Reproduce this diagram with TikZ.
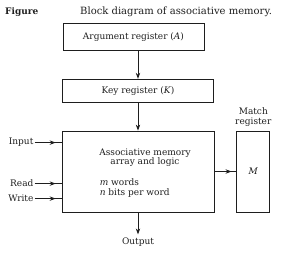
\documentclass[tikz,border=0pt]{standalone}
\usepackage{fontspec}
\setmainfont{DejaVu Serif}
\usepackage{xcolor}
\usepackage{tikz}
\usetikzlibrary{arrows.meta, positioning, calc, decorations.markings}
\definecolor{mydark}{RGB}{30,30,30}
\newcommand{\regfont}{\fontsize{9}{9.5}\selectfont}
\tikzset{
  reg/.style={rectangle, draw=mydark, line width=0.8pt, inner sep=0pt,
    font=\regfont, text=mydark},
  lbl/.style={inner sep=0pt, font=\regfont, text=mydark, align=center},
  arrow/.style={-{Stealth[length=6pt, width=4.4pt]}, line width=0.8pt, color=mydark},
  midarrow/.style={line width=0.8pt, color=mydark, postaction={decorate},
    decoration={markings, mark=at position 0.78 with {\arrow{Stealth[length=6pt, width=4.4pt]}}}}
}

\begin{document}
\begin{tikzpicture}[x=1pt, y=1pt]
  \useasboundingbox (0,0) rectangle (289,-252);

  % caption
  \node[lbl, anchor=west, font=\bfseries\fontsize{9}{9}\selectfont] (fig) at (5,-12) {Figure};
  \node[lbl, anchor=west, font=\fontsize{10}{11}\selectfont] (title) at (80,-12) {Block diagram of associative memory.};

  % registers and memory array
  \node[reg, minimum width=152pt, minimum height=81pt] (main) at (138,-171.5) {};
  \node[reg, minimum width=151pt, minimum height=23pt, above=28pt of main] (key) {Key register (\textit{K})};
  \node[reg, minimum width=141pt, minimum height=27pt, above=28pt of key, xshift=-4.5pt] (arg) {Argument register (\textit{A})};
  \node[reg, minimum width=33pt, minimum height=81pt, right=22pt of main] (match) {\textit{M}};
  \node[lbl, above=4pt of match] (matchlbl) {Match\\register};

  \node[lbl] (assoc) at ($(main.north)+(7,-27)$) {Associative memory\\array and logic};
  \node[lbl, anchor=west, align=left] (words) at ($(main.west)+(38,-16.5)$) {\textit{m} words\\\textit{n} bits per word};

  % inputs
  \coordinate (inp) at ($(main.north west)+(0,-12)$);
  \coordinate (rd) at ($(main.north west)+(0,-53)$);
  \coordinate (wr) at ($(main.north west)+(0,-68)$);
  \node[lbl, left=28pt of inp] (input) {Input};
  \node[lbl, left=28pt of rd] (read) {Read};
  \node[lbl, left=28pt of wr] (write) {Write};
  \node[lbl, below=25pt of main] (output) {Output};

  % Paths
  \draw[arrow] (arg.south -| key.north) -- (key.north);
  \draw[arrow] (key) -- (main);
  \draw[midarrow] ([xshift=1pt]input.east) -- (inp);
  \draw[midarrow] ([xshift=1pt]read.east) -- (rd);
  \draw[midarrow] ([xshift=1pt]write.east) -- (wr);
  \draw[midarrow] (main.east) -- (match.west);
  \draw[arrow, shorten >=3pt] (main) -- (output);
\end{tikzpicture}
\end{document}
